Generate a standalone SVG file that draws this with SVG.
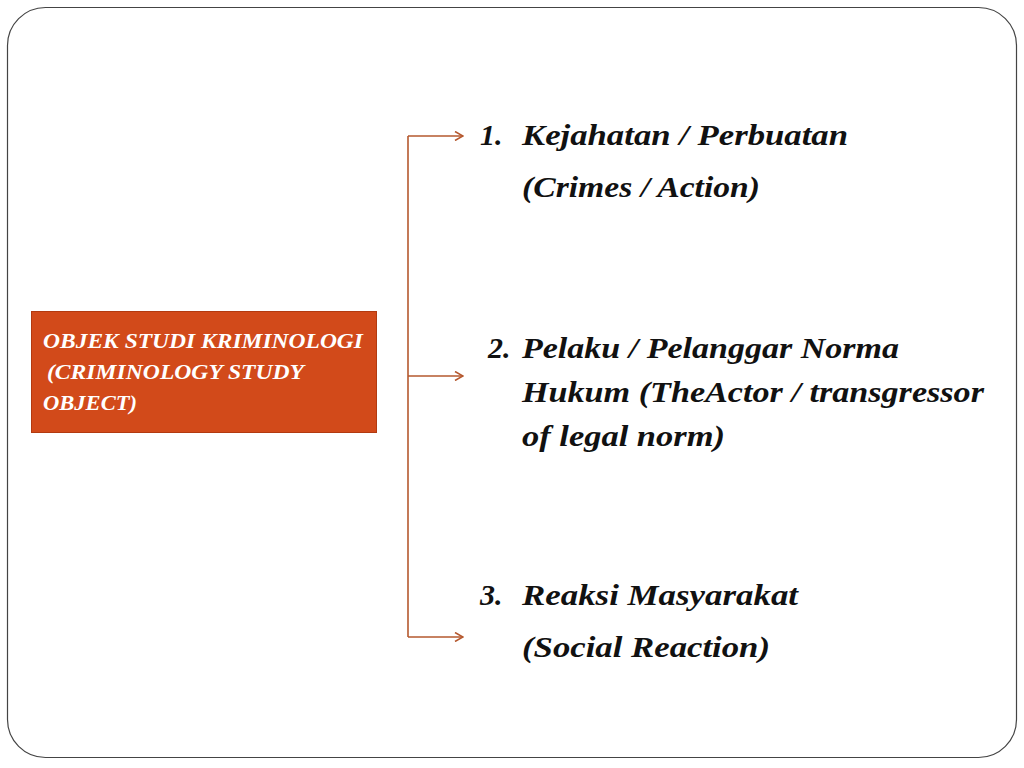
<svg xmlns="http://www.w3.org/2000/svg" width="1024" height="768" viewBox="0 0 1024 768">
<defs>
<style>
.t{font-family:"Liberation Serif","Times New Roman",serif;font-style:italic;font-weight:bold;fill:#111;font-size:30px}
.b{font-family:"Liberation Serif","Times New Roman",serif;font-style:italic;font-weight:bold;fill:#fff;font-size:20px}
.c{fill:none;stroke:#B5582E;stroke-width:1.6}
</style>
<marker id="ah" viewBox="0 0 10 10" refX="9" refY="5" markerWidth="10" markerHeight="10" markerUnits="userSpaceOnUse" orient="auto">
<path d="M1,0.5 L9,5 L1,9.5" fill="none" stroke="#B5582E" stroke-width="1.6"/>
</marker>
</defs>
<rect x="0" y="0" width="1024" height="768" fill="#fff"/>
<rect x="7.5" y="7.5" width="1009" height="750" rx="38" ry="38" fill="#fff" stroke="#444" stroke-width="1.2"/>
<g id="connectors">
<path class="c" d="M408,637 L408,136"/>
<path class="c" d="M408,136 L463,136" marker-end="url(#ah)"/>
<path class="c" d="M408,376 L463,376" marker-end="url(#ah)"/>
<path class="c" d="M408,637 L463,637" marker-end="url(#ah)"/>
</g>
<g id="source">
<rect x="31.5" y="311.5" width="345" height="121" fill="#D24A1A" stroke="#B23A10" stroke-width="1"/>
<text class="b" x="43" y="348" textLength="320" lengthAdjust="spacingAndGlyphs">OBJEK STUDI KRIMINOLOGI</text>
<text class="b" x="47" y="379" textLength="257" lengthAdjust="spacingAndGlyphs">(CRIMINOLOGY STUDY</text>
<text class="b" x="43" y="410" textLength="94" lengthAdjust="spacingAndGlyphs">OBJECT)</text>
</g>
<g id="item1">
<text class="t" x="480" y="145">1.</text>
<text class="t" x="522" y="145" textLength="326" lengthAdjust="spacingAndGlyphs">Kejahatan / Perbuatan</text>
<text class="t" x="522" y="197" textLength="238" lengthAdjust="spacingAndGlyphs">(Crimes / Action)</text>
</g>
<g id="item2">
<text class="t" x="488" y="358">2.</text>
<text class="t" x="522" y="358" textLength="377" lengthAdjust="spacingAndGlyphs">Pelaku / Pelanggar Norma</text>
<text class="t" x="522" y="402" textLength="462" lengthAdjust="spacingAndGlyphs">Hukum (TheActor / transgressor</text>
<text class="t" x="522" y="446" textLength="203" lengthAdjust="spacingAndGlyphs">of legal norm)</text>
</g>
<g id="item3">
<text class="t" x="480" y="605">3.</text>
<text class="t" x="522" y="605" textLength="276" lengthAdjust="spacingAndGlyphs">Reaksi Masyarakat</text>
<text class="t" x="522" y="657" textLength="248" lengthAdjust="spacingAndGlyphs">(Social Reaction)</text>
</g>
</svg>
